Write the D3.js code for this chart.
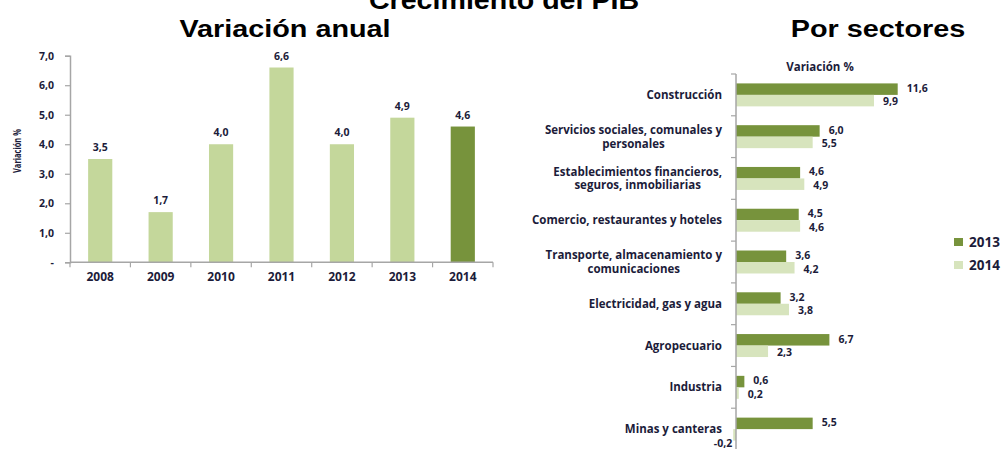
<!DOCTYPE html>
<html>
<head>
<meta charset="utf-8">
<script src="https://cdn.jsdelivr.net/npm/d3@7"></script>
<style>
  html, body { margin: 0; padding: 0; background: #fff; }
  svg { display: block; }
  .title { font-family: "Liberation Sans", Arial, sans-serif; font-weight: bold; fill: #000; }
  .lbl { font-family: "Open Sans", Lato, sans-serif; font-weight: 700; fill: #1c1c3a; }
</style>
</head>
<body>
<svg id="chart" width="1005" height="449"></svg>
<script>
// Annual GDP growth
const years = ["2008", "2009", "2010", "2011", "2012", "2013", "2014"];
const annualGrowth = [3.5, 1.7, 4.0, 6.6, 4.0, 4.9, 4.6];
const yTicks = [0, 1, 2, 3, 4, 5, 6, 7];

// Growth by sector
const sectors = [
  ["Construcción"],
  ["Servicios sociales, comunales y", "personales"],
  ["Establecimientos financieros,", "seguros, inmobiliarias"],
  ["Comercio, restaurantes y hoteles"],
  ["Transporte, almacenamiento y", "comunicaciones"],
  ["Electricidad, gas y agua"],
  ["Agropecuario"],
  ["Industria"],
  ["Minas y canteras"]
];
const series = ["2013", "2014"];
const sector2013 = [11.6, 6.0, 4.6, 4.5, 3.6, 3.2, 6.7, 0.6, 5.5];
const sector2014 = [9.9, 5.5, 4.9, 4.6, 4.2, 3.8, 2.3, 0.2, -0.2];

const LIGHT = "#c4d79b";
const DARK = "#77933c";
const PALE = "#d7e4bd";
const AXIS = "#a6a6a6";

const fmt = v => v.toFixed(1).replace(".", ",");

const svg = d3.select("#chart");

// Headings (slightly widened bold sans)
function heading(text, cx, baseline, size, sx) {
  svg.append("text").attr("class", "title")
    .attr("transform", `translate(${cx},${baseline}) scale(${sx},1)`)
    .attr("text-anchor", "middle")
    .style("font-size", size + "px").text(text);
}
heading("Crecimiento del PIB", 504, 9, 26, 1.1);
heading("Variación anual", 285, 37, 24, 1.2);
heading("Por sectores", 878, 37, 24, 1.2);

// ---------- Left: annual growth column chart ----------
const x = d3.scaleBand().domain(years).range([70, 493]).paddingInner(0.6).paddingOuter(0.3);
const y = d3.scaleLinear().domain([0, 7]).range([262.3, 55.7]);

const left = svg.append("g");

left.selectAll("rect.bar").data(years).join("rect")
  .attr("class", "bar")
  .attr("x", d => x(d))
  .attr("width", x.bandwidth())
  .attr("y", (d, i) => y(annualGrowth[i]))
  .attr("height", (d, i) => y(0) - y(annualGrowth[i]))
  .attr("fill", (d, i) => i === years.length - 1 ? DARK : LIGHT);

left.selectAll("text.val").data(years).join("text")
  .attr("class", "lbl val")
  .attr("x", d => x(d) + x.bandwidth() / 2)
  .attr("y", (d, i) => y(annualGrowth[i]) - 8)
  .attr("text-anchor", "middle")
  .style("font-size", "10.5px")
  .text((d, i) => fmt(annualGrowth[i]));

// y axis
const yAxis = left.append("g").attr("transform", "translate(70,0)")
  .call(d3.axisLeft(y).tickValues(yTicks).tickSize(5).tickPadding(11)
    .tickFormat(d => d === 0 ? "-" : fmt(d)));
yAxis.select(".domain").attr("stroke", AXIS).attr("stroke-width", 1.5);
yAxis.selectAll(".tick line").attr("stroke", AXIS).attr("stroke-width", 1.2);
yAxis.selectAll(".tick text").attr("class", "lbl").style("font-size", "10.5px");

// x axis with ticks between categories
const xAxisG = left.append("g");
xAxisG.append("line").attr("x1", 70).attr("x2", 493).attr("y1", y(0)).attr("y2", y(0))
  .attr("stroke", AXIS).attr("stroke-width", 1.5);
const step = x.step();
const firstEdge = x(years[0]) + x.bandwidth() / 2 - step / 2;
xAxisG.selectAll("line.tk").data(d3.range(years.length + 1)).join("line")
  .attr("class", "tk")
  .attr("x1", i => firstEdge + i * step)
  .attr("x2", i => firstEdge + i * step)
  .attr("y1", y(0)).attr("y2", y(0) + 5)
  .attr("stroke", AXIS).attr("stroke-width", 1.2);
xAxisG.selectAll("text").data(years).join("text")
  .attr("class", "lbl")
  .attr("x", d => x(d) + x.bandwidth() / 2)
  .attr("y", 277).attr("dy", "0.36em")
  .attr("text-anchor", "middle")
  .style("font-size", "12px")
  .text(d => d);

left.append("text").attr("class", "lbl")
  .attr("transform", "translate(21,151) rotate(-90)")
  .attr("text-anchor", "middle")
  .attr("textLength", 44).attr("lengthAdjust", "spacingAndGlyphs")
  .style("font-size", "10px")
  .text("Variación %");

// ---------- Right: sector bar chart ----------
const names = sectors.map(s => s.join(" "));
const yb = d3.scaleBand().domain(names).range([74, 450]).paddingInner(0.45).paddingOuter(0.225);
const ys = d3.scaleBand().domain(series).range([0, yb.bandwidth()]);
const xs = d3.scaleLinear().domain([0, 11.6]).range([736, 897.7]);

const right = svg.append("g");

const values = { "2013": sector2013, "2014": sector2014 };
const colors = { "2013": DARK, "2014": PALE };

series.forEach((s, k) => {
  right.selectAll("rect.s" + s).data(names).join("rect")
    .attr("class", "s" + s)
    .attr("y", d => yb(d) + ys(s))
    .attr("height", ys.bandwidth())
    .attr("x", (d, i) => Math.min(xs(0), xs(values[s][i])))
    .attr("width", (d, i) => Math.abs(xs(values[s][i]) - xs(0)))
    .attr("fill", colors[s]);

  right.selectAll("text.v" + s).data(names).join("text")
    .attr("class", "lbl v" + s)
    .attr("x", (d, i) => values[s][i] < 0 ? xs(values[s][i]) - 1 : xs(values[s][i]) + 9)
    .attr("y", (d, i) => yb(d) + ys(s) + ys.bandwidth() / 2 + (k === 0 ? -1 : 1) + (values[s][i] < 0 ? 7 : 0))
    .attr("dy", "0.36em")
    .attr("text-anchor", (d, i) => values[s][i] < 0 ? "end" : "start")
    .style("font-size", "10.5px")
    .text((d, i) => fmt(values[s][i]));
});

// vertical category axis
right.append("line").attr("x1", 736).attr("x2", 736).attr("y1", 74).attr("y2", 449)
  .attr("stroke", AXIS).attr("stroke-width", 1.5);
const firstTop = yb(names[0]) - yb.step() * yb.paddingInner() / 2;
right.selectAll("line.tk").data(d3.range(sectors.length + 1)).join("line")
  .attr("class", "tk")
  .attr("x1", 731).attr("x2", 736)
  .attr("y1", i => firstTop + i * yb.step())
  .attr("y2", i => firstTop + i * yb.step())
  .attr("stroke", AXIS).attr("stroke-width", 1.2);

// category labels: block right-aligned, lines centred within block
const CAT_SIZE = "11.5px";
const measure = svg.append("text").attr("class", "lbl").style("font-size", CAT_SIZE);
sectors.forEach((lines, i) => {
  const widths = lines.map(l => { measure.text(l); return measure.node().getComputedTextLength(); });
  const w = d3.max(widths);
  const cx = 722 - w / 2;
  const cy = yb(names[i]) + yb.bandwidth() / 2;
  const lh = 13.5;
  lines.forEach((l, j) => {
    right.append("text").attr("class", "lbl")
      .attr("x", cx)
      .attr("y", cy + (j - (lines.length - 1) / 2) * lh)
      .attr("dy", "0.36em")
      .attr("text-anchor", "middle")
      .style("font-size", CAT_SIZE)
      .text(l);
  });
});
measure.remove();

right.append("text").attr("class", "lbl")
  .attr("x", 820).attr("y", 67).attr("dy", "0.36em")
  .attr("text-anchor", "middle").style("font-size", "11.5px")
  .text("Variación %");

// legend
series.forEach((s, i) => {
  const ly = 242 + i * 23;
  right.append("rect").attr("x", 954).attr("y", ly - 4).attr("width", 9).attr("height", 8)
    .attr("fill", colors[s]);
  right.append("text").attr("class", "lbl")
    .attr("x", 969).attr("y", ly).attr("dy", "0.36em")
    .style("font-size", "13.5px").text(s);
});
</script>
</body>
</html>
